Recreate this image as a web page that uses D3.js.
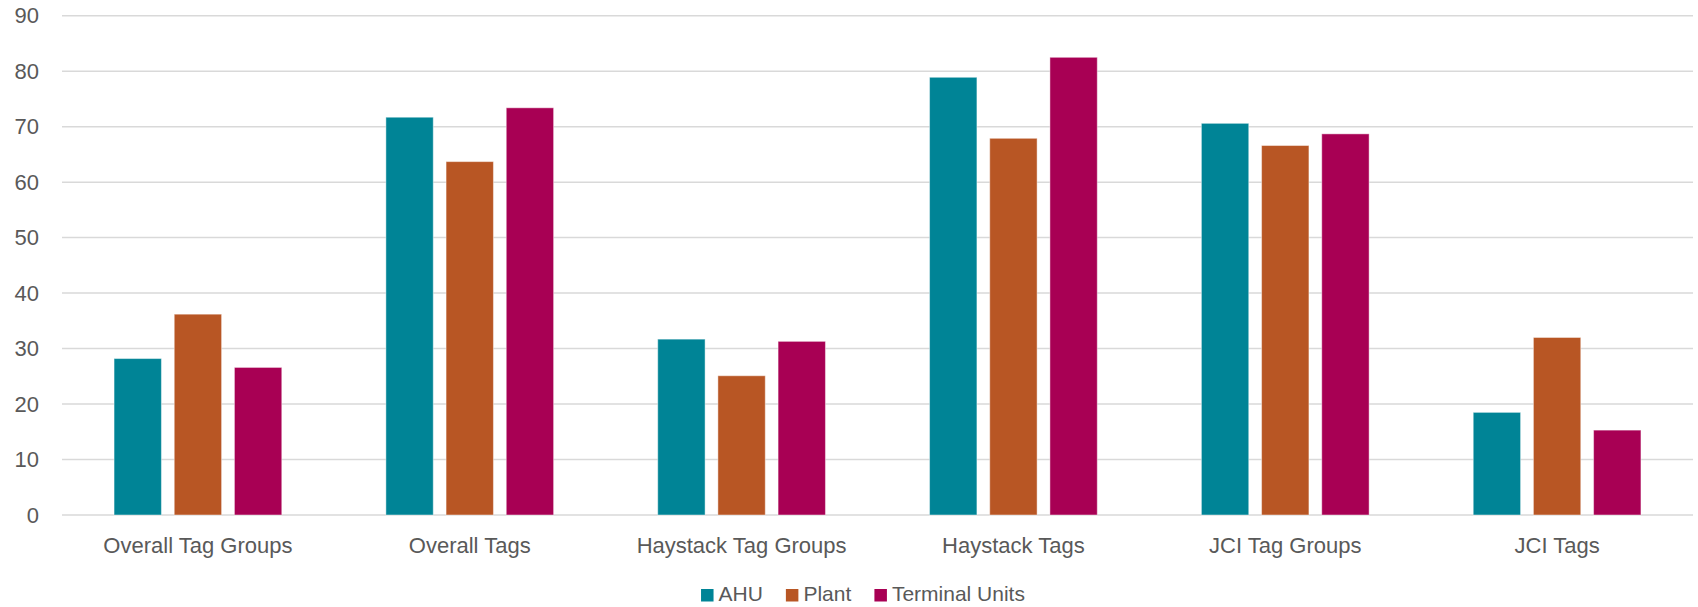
<!DOCTYPE html>
<html>
<head>
<meta charset="utf-8">
<script src="https://cdn.jsdelivr.net/npm/d3@7"></script>
<style>
  body { margin: 0; background: #fff; }
  svg text { font-family: "Liberation Sans", Arial, sans-serif; fill: #595959; }
</style>
</head>
<body>
<svg id="chart" width="1698" height="607"></svg>
<script>
// data
let categories = ['Overall Tag Groups', 'Overall Tags', 'Haystack Tag Groups', 'Haystack Tags', 'JCI Tag Groups', 'JCI Tags'];
let seriesNames = ['AHU', 'Plant', 'Terminal Units'];
let ahu = [28.2, 71.7, 31.7, 78.9, 70.6, 18.5];
let plant = [36.2, 63.7, 25.1, 67.9, 66.6, 32.0];
let terminal = [26.6, 73.4, 31.3, 82.5, 68.7, 15.3];
let colors = ['#008496', '#b85624', '#a80054'];
let yTicks = [0, 10, 20, 30, 40, 50, 60, 70, 80, 90];

let seriesValues = [ahu, plant, terminal];

let svg = d3.select('#chart');
let margin = { left: 62, right: 5, top: 15.7, bottom: 92 };
let width = 1698, height = 607;

let y = d3.scaleLinear()
	.domain([0, 90])
	.range([height - margin.bottom, margin.top]);

let x0 = d3.scaleBand()
	.domain(categories)
	.range([margin.left, width - margin.right])
	.paddingInner(0.383)
	.paddingOuter(0.383 / 2);

let x1 = d3.scaleBand()
	.domain(seriesNames)
	.range([0, x0.bandwidth()])
	.paddingInner(0.213);

// gridlines
svg.append('g')
	.selectAll('line')
	.data(yTicks)
	.enter()
	.append('line')
	.attr('x1', margin.left)
	.attr('x2', width - margin.right)
	.attr('y1', d => y(d))
	.attr('y2', d => y(d))
	.attr('stroke', '#d9d9d9')
	.attr('stroke-width', 1.5);

// y axis labels
let yAxis = d3.axisLeft(y).tickValues(yTicks).tickSize(0).tickPadding(23);
svg.append('g')
	.attr('transform', 'translate(' + margin.left + ',0)')
	.call(yAxis)
	.call(g => g.select('.domain').remove())
	.selectAll('text')
	.attr('font-size', 22)
	.attr('font-family', null)
	.attr('fill', '#595959');

// bars
let groups = svg.append('g')
	.selectAll('g')
	.data(categories)
	.enter()
	.append('g')
	.attr('transform', d => 'translate(' + x0(d) + ',0)');

groups.selectAll('rect')
	.data((d, i) => seriesNames.map((s, j) => ({ s: s, j: j, v: seriesValues[j][i] })))
	.enter()
	.append('rect')
	.attr('x', d => x1(d.s))
	.attr('width', x1.bandwidth())
	.attr('y', d => y(d.v))
	.attr('height', d => y(0) - y(d.v))
	.attr('fill', d => colors[d.j])
	.attr('stroke', '#ffffff')
	.attr('stroke-opacity', 0.45)
	.attr('stroke-width', 1);

// x axis labels
let xAxis = d3.axisBottom(x0).tickSize(0).tickPadding(22);
svg.append('g')
	.attr('transform', 'translate(0,' + y(0) + ')')
	.call(xAxis)
	.call(g => g.select('.domain').remove())
	.selectAll('text')
	.attr('font-size', 22)
	.attr('font-family', null)
	.attr('fill', '#595959');

// legend
let legend = svg.append('g').attr('transform', 'translate(0,594)');
let items = legend.selectAll('g')
	.data(seriesNames)
	.enter()
	.append('g');

items.append('rect')
	.attr('width', 12.5)
	.attr('height', 12.5)
	.attr('y', -5)
	.attr('fill', (d, i) => colors[i]);

items.append('text')
	.attr('x', 17.5)
	.attr('dy', '0.35em')
	.attr('font-size', 21)
	.text(d => d);

let xpos = 0;
items.each(function () {
	let w = this.getBBox().width;
	d3.select(this).attr('data-x', xpos);
	xpos += w + 23;
});
let total = xpos - 23;
let start = 863 - total / 2;
items.attr('transform', function () {
	return 'translate(' + (start + +d3.select(this).attr('data-x')) + ',0)';
});
</script>
</body>
</html>
